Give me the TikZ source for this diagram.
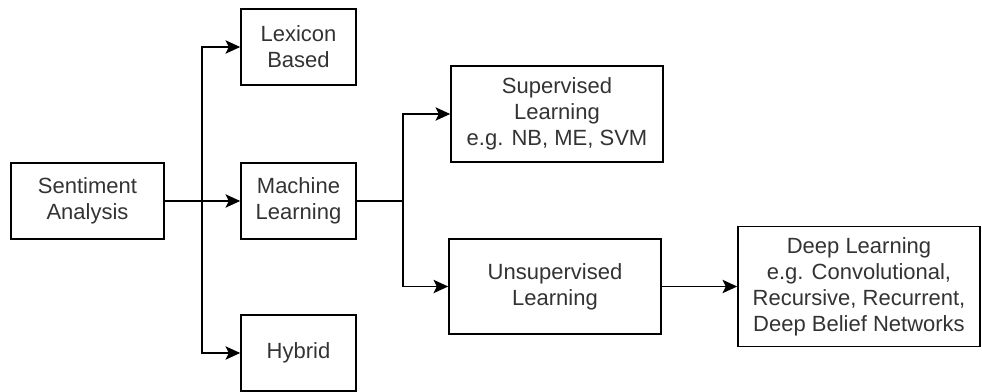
\documentclass[tikz,border=0pt]{standalone}
\usepackage{fontspec}
\setmainfont{Liberation Sans}
\usetikzlibrary{arrows.meta,positioning}

\begin{document}
\begin{tikzpicture}[x=0.75pt,y=-0.75pt,
  box/.style={draw, line width=1.2pt, align=center, inner sep=0pt, text=black!80,
    font=\fontsize{16.5}{19.5}\selectfont},
  link/.style={line width=1.2pt},
  arr/.style={link, -{Stealth[length=11pt,width=10pt,inset=2.5pt]}}]
\useasboundingbox (0,0) rectangle (982,392);
% boxes
\node[box, minimum width=114.75pt, minimum height=57pt] (sa) at (87.5,201) {Sentiment\\Analysis};
\node[box, minimum width=86.25pt, minimum height=57pt] (lex) at (298.5,47) {Lexicon\\Based};
\node[box, minimum width=86.25pt, minimum height=57pt] (ml) at (298.5,201) {Machine\\Learning};
\node[box, minimum width=86.25pt, minimum height=57pt] (hyb) at (298.5,353) {Hybrid};
\node[box, minimum width=159pt, minimum height=72pt] (sup) at (557,114) {Supervised\\Learning\\e.g. NB, ME, SVM};
\node[box, minimum width=159pt, minimum height=71.25pt] (unsup) at (555,286.5) {Unsupervised\\Learning};
\node[box, minimum width=181.5pt, minimum height=90pt] (deep) at (859,286.5) {Deep Learning\\e.g. Convolutional,\\Recursive, Recurrent,\\Deep Belief Networks};
% connectors
\coordinate (j1) at (202,201);
\coordinate (j2) at (403,201);
\draw[arr] (sa.east) -- (j1) |- (lex.west);
\draw[arr] (sa.east) -- (ml.west);
\draw[arr] (j1) |- (hyb.west);
\draw[arr] (ml.east) -- (j2) |- (sup.west);
\draw[arr] (j2) |- (unsup.west);
\draw[arr] (unsup.east) -- (deep.west);
\end{tikzpicture}
\end{document}
